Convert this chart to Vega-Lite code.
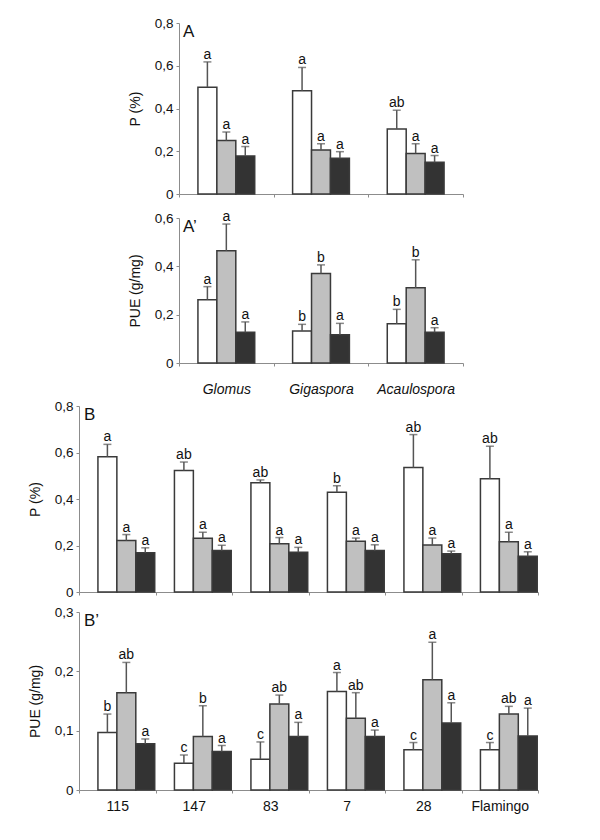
{
  "$schema": "https://vega.github.io/schema/vega-lite/v6.json",
  "background": "white",
  "padding": {"left": 28, "top": 16, "right": 5, "bottom": 5},
  "spacing": 3,
  "datasets": {
    "A": [
      {"group": "Glomus", "series": "S1", "value": 0.50, "upper": 0.618, "letter": "a"},
      {"group": "Glomus", "series": "S2", "value": 0.25, "upper": 0.29, "letter": "a"},
      {"group": "Glomus", "series": "S3", "value": 0.178, "upper": 0.222, "letter": "a"},
      {"group": "Gigaspora", "series": "S1", "value": 0.483, "upper": 0.592, "letter": "a"},
      {"group": "Gigaspora", "series": "S2", "value": 0.206, "upper": 0.235, "letter": "a"},
      {"group": "Gigaspora", "series": "S3", "value": 0.167, "upper": 0.198, "letter": "a"},
      {"group": "Acaulospora", "series": "S1", "value": 0.304, "upper": 0.392, "letter": "ab"},
      {"group": "Acaulospora", "series": "S2", "value": 0.19, "upper": 0.235, "letter": "a"},
      {"group": "Acaulospora", "series": "S3", "value": 0.148, "upper": 0.18, "letter": "a"}
    ],
    "Ap": [
      {"group": "Glomus", "series": "S1", "value": 0.262, "upper": 0.316, "letter": "a"},
      {"group": "Glomus", "series": "S2", "value": 0.464, "upper": 0.575, "letter": "a"},
      {"group": "Glomus", "series": "S3", "value": 0.127, "upper": 0.17, "letter": "a"},
      {"group": "Gigaspora", "series": "S1", "value": 0.132, "upper": 0.16, "letter": "b"},
      {"group": "Gigaspora", "series": "S2", "value": 0.37, "upper": 0.406, "letter": "b"},
      {"group": "Gigaspora", "series": "S3", "value": 0.117, "upper": 0.164, "letter": "a"},
      {"group": "Acaulospora", "series": "S1", "value": 0.162, "upper": 0.222, "letter": "b"},
      {"group": "Acaulospora", "series": "S2", "value": 0.311, "upper": 0.427, "letter": "b"},
      {"group": "Acaulospora", "series": "S3", "value": 0.127, "upper": 0.146, "letter": "a"}
    ],
    "B": [
      {"group": "115", "series": "S1", "value": 0.582, "upper": 0.635, "letter": "a"},
      {"group": "115", "series": "S2", "value": 0.221, "upper": 0.247, "letter": "a"},
      {"group": "115", "series": "S3", "value": 0.169, "upper": 0.19, "letter": "a"},
      {"group": "147", "series": "S1", "value": 0.523, "upper": 0.559, "letter": "ab"},
      {"group": "147", "series": "S2", "value": 0.231, "upper": 0.257, "letter": "a"},
      {"group": "147", "series": "S3", "value": 0.179, "upper": 0.201, "letter": "a"},
      {"group": "83", "series": "S1", "value": 0.47, "upper": 0.482, "letter": "ab"},
      {"group": "83", "series": "S2", "value": 0.208, "upper": 0.234, "letter": "a"},
      {"group": "83", "series": "S3", "value": 0.171, "upper": 0.192, "letter": "a"},
      {"group": "7", "series": "S1", "value": 0.429, "upper": 0.457, "letter": "b"},
      {"group": "7", "series": "S2", "value": 0.218, "upper": 0.232, "letter": "a"},
      {"group": "7", "series": "S3", "value": 0.179, "upper": 0.203, "letter": "a"},
      {"group": "28", "series": "S1", "value": 0.535, "upper": 0.677, "letter": "ab"},
      {"group": "28", "series": "S2", "value": 0.202, "upper": 0.232, "letter": "a"},
      {"group": "28", "series": "S3", "value": 0.165, "upper": 0.176, "letter": "a"},
      {"group": "Flamingo", "series": "S1", "value": 0.487, "upper": 0.627, "letter": "ab"},
      {"group": "Flamingo", "series": "S2", "value": 0.216, "upper": 0.257, "letter": "a"},
      {"group": "Flamingo", "series": "S3", "value": 0.154, "upper": 0.173, "letter": "a"}
    ],
    "Bp": [
      {"group": "115", "series": "S1", "value": 0.097, "upper": 0.128, "letter": "b"},
      {"group": "115", "series": "S2", "value": 0.164, "upper": 0.215, "letter": "ab"},
      {"group": "115", "series": "S3", "value": 0.078, "upper": 0.086, "letter": "a"},
      {"group": "147", "series": "S1", "value": 0.045, "upper": 0.059, "letter": "c"},
      {"group": "147", "series": "S2", "value": 0.09, "upper": 0.142, "letter": "b"},
      {"group": "147", "series": "S3", "value": 0.065, "upper": 0.075, "letter": "a"},
      {"group": "83", "series": "S1", "value": 0.052, "upper": 0.081, "letter": "c"},
      {"group": "83", "series": "S2", "value": 0.145, "upper": 0.16, "letter": "ab"},
      {"group": "83", "series": "S3", "value": 0.09, "upper": 0.114, "letter": "a"},
      {"group": "7", "series": "S1", "value": 0.166, "upper": 0.198, "letter": "a"},
      {"group": "7", "series": "S2", "value": 0.121, "upper": 0.164, "letter": "ab"},
      {"group": "7", "series": "S3", "value": 0.09, "upper": 0.101, "letter": "a"},
      {"group": "28", "series": "S1", "value": 0.068, "upper": 0.08, "letter": "c"},
      {"group": "28", "series": "S2", "value": 0.186, "upper": 0.249, "letter": "a"},
      {"group": "28", "series": "S3", "value": 0.113, "upper": 0.147, "letter": "a"},
      {"group": "Flamingo", "series": "S1", "value": 0.068, "upper": 0.08, "letter": "c"},
      {"group": "Flamingo", "series": "S2", "value": 0.128, "upper": 0.141, "letter": "ab"},
      {"group": "Flamingo", "series": "S3", "value": 0.091, "upper": 0.138, "letter": "a"}
    ]
  },
  "vconcat": [
    {
      "width": 459, "height": 171,
      "data": {"name": "A"},
      "layer": [
        {"mark": {"type": "bar", "stroke": "#3a3a3a", "strokeWidth": 1.5},
         "encoding": {
           "x": {"field": "group", "type": "nominal", "scale": {"domain": ["Glomus", "Gigaspora", "Acaulospora"], "range": [100, 384], "paddingInner": 0, "paddingOuter": 0}, "axis": {"title": " ", "titleFontSize": 5, "titlePadding": 4, "labels": false, "tickBand": "extent"}},
           "xOffset": {"field": "series", "type": "nominal", "scale": {"paddingOuter": 1.28, "paddingInner": 0}},
           "y": {"field": "value", "type": "quantitative", "scale": {"domain": [0, 0.8], "nice": false},
                 "axis": {"title": "P (%)", "values": [0, 0.2, 0.4, 0.6, 0.8], "labelExpr": "datum.value == 0 ? '0' : replace(format(datum.value, '.1f'), '.', ',')", "offset": -100, "titlePadding": 12, "labelPadding": 3}},
           "fill": {"field": "series", "type": "nominal", "scale": {"domain": ["S1", "S2", "S3"], "range": ["#ffffff", "#c0c0c0", "#333333"]}, "legend": null}}},
        {"mark": {"type": "rule", "color": "#555555", "strokeWidth": 1.5},
         "encoding": {"x": {"field": "group", "type": "nominal"}, "xOffset": {"field": "series", "type": "nominal"},
           "y": {"field": "value", "type": "quantitative"}, "y2": {"field": "upper"}}},
        {"mark": {"type": "tick", "color": "#555555", "thickness": 1.5, "size": 8},
         "encoding": {"x": {"field": "group", "type": "nominal"}, "xOffset": {"field": "series", "type": "nominal"},
           "y": {"field": "upper", "type": "quantitative"}}},
        {"mark": {"type": "text", "dy": -3, "baseline": "alphabetic", "fontSize": 14, "color": "#111"},
         "encoding": {"x": {"field": "group", "type": "nominal"}, "xOffset": {"field": "series", "type": "nominal"},
           "y": {"field": "upper", "type": "quantitative"}, "text": {"field": "letter"}}},
        {"data": {"values": [{"panel": "A"}]},
         "mark": {"type": "text", "align": "left", "baseline": "top", "dx": 4, "dy": 1, "fontSize": 17, "color": "#111"},
         "encoding": {"x": {"datum": "Glomus", "type": "nominal", "bandPosition": 0}, "y": {"datum": 0.8, "type": "quantitative"}, "text": {"field": "panel"}}}
      ]
    },
    {
      "width": 459, "height": 145,
      "data": {"name": "Ap"},
      "layer": [
        {"mark": {"type": "bar", "stroke": "#3a3a3a", "strokeWidth": 1.5},
         "encoding": {
           "x": {"field": "group", "type": "nominal", "scale": {"domain": ["Glomus", "Gigaspora", "Acaulospora"], "range": [100, 384], "paddingInner": 0, "paddingOuter": 0}, "axis": {"title": null, "labelFontStyle": "italic", "labelFontSize": 14, "labelPadding": 16, "labelAngle": 0, "tickBand": "extent"}},
           "xOffset": {"field": "series", "type": "nominal", "scale": {"paddingOuter": 1.28, "paddingInner": 0}},
           "y": {"field": "value", "type": "quantitative", "scale": {"domain": [0, 0.6], "nice": false},
                 "axis": {"title": "PUE (g/mg)", "values": [0, 0.2, 0.4, 0.6], "labelExpr": "datum.value == 0 ? '0' : replace(format(datum.value, '.1f'), '.', ',')", "offset": -100, "titlePadding": 12, "labelPadding": 3}},
           "fill": {"field": "series", "type": "nominal", "scale": {"domain": ["S1", "S2", "S3"], "range": ["#ffffff", "#c0c0c0", "#333333"]}, "legend": null}}},
        {"mark": {"type": "rule", "color": "#555555", "strokeWidth": 1.5},
         "encoding": {"x": {"field": "group", "type": "nominal"}, "xOffset": {"field": "series", "type": "nominal"},
           "y": {"field": "value", "type": "quantitative"}, "y2": {"field": "upper"}}},
        {"mark": {"type": "tick", "color": "#555555", "thickness": 1.5, "size": 8},
         "encoding": {"x": {"field": "group", "type": "nominal"}, "xOffset": {"field": "series", "type": "nominal"},
           "y": {"field": "upper", "type": "quantitative"}}},
        {"mark": {"type": "text", "dy": -3, "baseline": "alphabetic", "fontSize": 14, "color": "#111"},
         "encoding": {"x": {"field": "group", "type": "nominal"}, "xOffset": {"field": "series", "type": "nominal"},
           "y": {"field": "upper", "type": "quantitative"}, "text": {"field": "letter"}}},
        {"data": {"values": [{"panel": "A’"}]},
         "mark": {"type": "text", "align": "left", "baseline": "top", "dx": 4, "dy": 1, "fontSize": 17, "color": "#111"},
         "encoding": {"x": {"datum": "Glomus", "type": "nominal", "bandPosition": 0}, "y": {"datum": 0.6, "type": "quantitative"}, "text": {"field": "panel"}}}
      ]
    },
    {
      "width": 459, "height": 186,
      "data": {"name": "B"},
      "layer": [
        {"mark": {"type": "bar", "stroke": "#3a3a3a", "strokeWidth": 1.5},
         "encoding": {
           "x": {"field": "group", "type": "nominal", "scale": {"domain": ["115", "147", "83", "7", "28", "Flamingo"], "paddingInner": 0, "paddingOuter": 0}, "axis": {"title": " ", "titleFontSize": 5, "titlePadding": 1, "labels": false, "tickBand": "extent"}},
           "xOffset": {"field": "series", "type": "nominal", "scale": {"paddingOuter": 0.8, "paddingInner": 0}},
           "y": {"field": "value", "type": "quantitative", "scale": {"domain": [0, 0.8], "nice": false},
                 "axis": {"title": "P (%)", "values": [0, 0.2, 0.4, 0.6, 0.8], "labelExpr": "datum.value == 0 ? '0' : replace(format(datum.value, '.1f'), '.', ',')", "titlePadding": 12, "labelPadding": 3}},
           "fill": {"field": "series", "type": "nominal", "scale": {"domain": ["S1", "S2", "S3"], "range": ["#ffffff", "#c0c0c0", "#333333"]}, "legend": null}}},
        {"mark": {"type": "rule", "color": "#555555", "strokeWidth": 1.5},
         "encoding": {"x": {"field": "group", "type": "nominal"}, "xOffset": {"field": "series", "type": "nominal"},
           "y": {"field": "value", "type": "quantitative"}, "y2": {"field": "upper"}}},
        {"mark": {"type": "tick", "color": "#555555", "thickness": 1.5, "size": 8},
         "encoding": {"x": {"field": "group", "type": "nominal"}, "xOffset": {"field": "series", "type": "nominal"},
           "y": {"field": "upper", "type": "quantitative"}}},
        {"mark": {"type": "text", "dy": -3, "baseline": "alphabetic", "fontSize": 14, "color": "#111"},
         "encoding": {"x": {"field": "group", "type": "nominal"}, "xOffset": {"field": "series", "type": "nominal"},
           "y": {"field": "upper", "type": "quantitative"}, "text": {"field": "letter"}}},
        {"data": {"values": [{"panel": "B"}]},
         "mark": {"type": "text", "align": "left", "baseline": "top", "dx": 5, "dy": 1, "fontSize": 17, "color": "#111"},
         "encoding": {"x": {"datum": "115", "type": "nominal", "bandPosition": 0}, "y": {"datum": 0.8, "type": "quantitative"}, "text": {"field": "panel"}}}
      ]
    },
    {
      "width": 459, "height": 178,
      "data": {"name": "Bp"},
      "layer": [
        {"mark": {"type": "bar", "stroke": "#3a3a3a", "strokeWidth": 1.5},
         "encoding": {
           "x": {"field": "group", "type": "nominal", "scale": {"domain": ["115", "147", "83", "7", "28", "Flamingo"], "paddingInner": 0, "paddingOuter": 0}, "axis": {"title": null, "labelFontSize": 14, "labelPadding": 6, "labelAngle": 0, "tickBand": "extent"}},
           "xOffset": {"field": "series", "type": "nominal", "scale": {"paddingOuter": 0.8, "paddingInner": 0}},
           "y": {"field": "value", "type": "quantitative", "scale": {"domain": [0, 0.3], "nice": false},
                 "axis": {"title": "PUE (g/mg)", "values": [0, 0.1, 0.2, 0.3], "labelExpr": "datum.value == 0 ? '0' : replace(format(datum.value, '.1f'), '.', ',')", "titlePadding": 12, "labelPadding": 3}},
           "fill": {"field": "series", "type": "nominal", "scale": {"domain": ["S1", "S2", "S3"], "range": ["#ffffff", "#c0c0c0", "#333333"]}, "legend": null}}},
        {"mark": {"type": "rule", "color": "#555555", "strokeWidth": 1.5},
         "encoding": {"x": {"field": "group", "type": "nominal"}, "xOffset": {"field": "series", "type": "nominal"},
           "y": {"field": "value", "type": "quantitative"}, "y2": {"field": "upper"}}},
        {"mark": {"type": "tick", "color": "#555555", "thickness": 1.5, "size": 8},
         "encoding": {"x": {"field": "group", "type": "nominal"}, "xOffset": {"field": "series", "type": "nominal"},
           "y": {"field": "upper", "type": "quantitative"}}},
        {"mark": {"type": "text", "dy": -3, "baseline": "alphabetic", "fontSize": 14, "color": "#111"},
         "encoding": {"x": {"field": "group", "type": "nominal"}, "xOffset": {"field": "series", "type": "nominal"},
           "y": {"field": "upper", "type": "quantitative"}, "text": {"field": "letter"}}},
        {"data": {"values": [{"panel": "B’"}]},
         "mark": {"type": "text", "align": "left", "baseline": "top", "dx": 5, "dy": 1, "fontSize": 17, "color": "#111"},
         "encoding": {"x": {"datum": "115", "type": "nominal", "bandPosition": 0}, "y": {"datum": 0.3, "type": "quantitative"}, "text": {"field": "panel"}}}
      ]
    }
  ],
  "config": {
    "view": {"stroke": null},
    "font": "Liberation Sans",
    "axis": {"domainColor": "#8c8c8c", "tickColor": "#8c8c8c", "labelFont": "Liberation Sans", "labelFontSize": 13.5, "labelColor": "#111111", "titleFont": "Liberation Sans", "titleFontSize": 14, "titleFontWeight": "normal", "titleColor": "#111111", "grid": false, "tickSize": 3}
  }
}
